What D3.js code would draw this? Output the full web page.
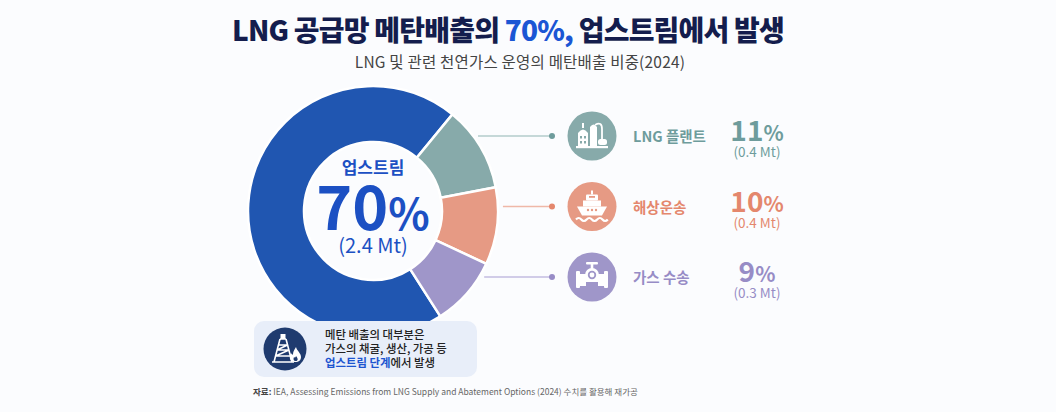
<!DOCTYPE html>
<html>
<head>
<meta charset="utf-8">
<script src="https://cdn.jsdelivr.net/npm/d3@7"></script>
<style>
  body { margin:0; background:#fbfcfe; }
  svg text { font-family:"Noto Sans CJK KR","Noto Sans",sans-serif; }
</style>
</head>
<body>
<div id="chart-area"></div>
<script>
// data
var segNames  = ['업스트림', 'LNG 플랜트', '해상운송', '가스 수송']
var segShares = [70, 11, 10, 9]
var segMt     = [2.4, 0.4, 0.4, 0.3]

var width = 1056, height = 412

var svg = d3.select('#chart-area').append('svg')
  .attr('width', width)
  .attr('height', height)

svg.append('rect').attr('width', width).attr('height', height).attr('fill', '#fbfcfe')

// colours
var sliceColor = d3.scaleOrdinal().domain(segNames)
  .range(['#2056b1', '#87aaaa', '#e69a84', '#9f96c9'])
var textColor = d3.scaleOrdinal().domain(segNames)
  .range(['#1c50c3', '#6e9c9c', '#e4876d', '#978cc6'])
var lineColor = d3.scaleOrdinal().domain(segNames)
  .range(['#2056b1', '#b3cdcb', '#efb8a8', '#c3bde0'])

var data = segNames.map(function(d, i){
  return {name: d, share: segShares[i], mt: segMt[i]}
})

// title
var title = svg.append('text')
  .attr('x', 508).attr('y', 41)
  .attr('text-anchor', 'middle')
  .attr('font-size', '28px')
  .attr('font-weight', 900)
  .attr('letter-spacing', '-0.8px')
  .attr('fill', '#141d4d')
title.append('tspan').text('LNG 공급망 메탄배출의 ')
title.append('tspan').attr('fill', '#1b56d4').text('70%,')
title.append('tspan').text(' 업스트림에서 발생')

svg.append('text')
  .attr('x', 520).attr('y', 68)
  .attr('text-anchor', 'middle')
  .attr('font-size', '15.5px')
  .attr('letter-spacing', '0.2px')
  .attr('fill', '#444')
  .text('LNG 및 관련 천연가스 운영의 메탄배출 비중(2024)')

// donut
var cx = 373, cy = 211, R = 125, r0 = 69

var pie = d3.pie().sort(null).value(function(d){ return d.share })
  .startAngle(147.4 * Math.PI / 180)
  .endAngle(147.4 * Math.PI / 180 + 2 * Math.PI)
var arc = d3.arc().innerRadius(r0).outerRadius(R)

var donut = svg.append('g').attr('transform', 'translate(' + cx + ',' + cy + ')')
donut.selectAll('path')
  .data(pie(data))
  .enter()
  .append('path')
  .attr('d', arc)
  .attr('fill', function(d){ return sliceColor(d.data.name) })
  .attr('stroke', '#fff')
  .attr('stroke-width', 2.5)

// centre label
var main = data[0]
donut.append('text')
  .attr('y', -37).attr('text-anchor', 'middle')
  .attr('font-size', '17px').attr('font-weight', 700)
  .attr('fill', textColor(main.name))
  .text(main.name)
var big = donut.append('text')
  .attr('y', 19).attr('text-anchor', 'middle')
  .attr('font-weight', 700)
  .attr('fill', textColor(main.name))
  .attr('font-family', 'Roboto, "Noto Sans", sans-serif')
big.append('tspan').attr('font-size', '61px').text(main.share)
big.append('tspan').attr('font-size', '43px').text('%')
donut.append('text')
  .attr('y', 42).attr('text-anchor', 'middle')
  .attr('font-size', '20px').attr('font-weight', 400)
  .attr('fill', textColor(main.name))
  .attr('font-family', 'Roboto, "Noto Sans", sans-serif')
  .text('(' + main.mt + ' Mt)')

// legend rows for the smaller parts
var rest = data.slice(1)
var rowY = d3.scalePoint().domain(rest.map(function(d){ return d.name })).range([136, 277])

var rows = svg.selectAll('g.row')
  .data(rest)
  .enter()
  .append('g')
  .attr('class', 'row')

rows.append('line')
  .attr('x1', function(d){
    var dy = rowY(d.name) - cy
    return cx + Math.sqrt(R * R - dy * dy) + 5
  })
  .attr('x2', 552)
  .attr('y1', function(d){ return rowY(d.name) })
  .attr('y2', function(d){ return rowY(d.name) })
  .attr('stroke', function(d){ return lineColor(d.name) })
  .attr('stroke-width', 1.5)

rows.append('circle')
  .attr('cx', 552)
  .attr('cy', function(d){ return rowY(d.name) })
  .attr('r', 3)
  .attr('fill', function(d){ return textColor(d.name) })

rows.append('circle')
  .attr('cx', 592)
  .attr('cy', function(d){ return rowY(d.name) })
  .attr('r', 24.5)
  .attr('fill', function(d){ return sliceColor(d.name) })

rows.append('text')
  .attr('x', 633)
  .attr('y', function(d){ return rowY(d.name) + 6 })
  .attr('font-size', '14.5px').attr('font-weight', 700)
  .attr('fill', function(d){ return textColor(d.name) })
  .text(function(d){ return d.name })

var pct = rows.append('text')
  .attr('x', 757)
  .attr('y', function(d){ return rowY(d.name) + 5 })
  .attr('text-anchor', 'middle')
  .attr('font-weight', 700)
  .attr('font-family', 'Roboto, "Noto Sans", sans-serif')
  .attr('fill', function(d){ return textColor(d.name) })
pct.append('tspan').attr('font-size', '28px').text(function(d){ return d.share })
pct.append('tspan').attr('font-size', '21px').text('%')

rows.append('text')
  .attr('x', 757)
  .attr('y', function(d){ return rowY(d.name) + 21 })
  .attr('text-anchor', 'middle')
  .attr('font-size', '13.5px')
  .attr('font-family', 'Roboto, "Noto Sans", sans-serif')
  .attr('fill', function(d){ return textColor(d.name) })
  .text(function(d){ return '(' + d.mt + ' Mt)' })

// icons (white glyphs on the coloured circles)
function icon(name){
  return svg.append('g').attr('transform', 'translate(592,' + rowY(name) + ')')
}

// LNG plant
var ic1 = icon(segNames[1])
ic1.append('path').attr('fill', '#fff')
  .attr('d', 'M-14,-3 Q-9,-10 -4,-3 L-4,10 L-14,10 Z')
ic1.append('rect').attr('x', -10).attr('y', -13).attr('width', 2).attr('height', 5).attr('fill', '#fff')
ic1.append('path').attr('fill', '#fff')
  .attr('d', 'M-2,-9 Q1.5,-14 5,-9 L5,10 L-2,10 Z')
ic1.append('path').attr('fill', 'none').attr('stroke', '#fff').attr('stroke-width', 1.8)
  .attr('d', 'M3,-11 Q10,-15 10,-7 L10,3')
ic1.append('rect').attr('x', 6).attr('y', 3).attr('width', 9).attr('height', 6).attr('rx', 2.5).attr('fill', '#fff')
ic1.append('rect').attr('x', -16).attr('y', 10).attr('width', 32).attr('height', 2.2).attr('fill', '#fff')
ic1.selectAll('rect.win').data([[-12, 0], [-8, 0], [-12, 5], [-8, 5]]).enter()
  .append('rect').attr('class', 'win')
  .attr('x', function(d){ return d[0] }).attr('y', function(d){ return d[1] })
  .attr('width', 2).attr('height', 2.5).attr('fill', sliceColor(segNames[1]))

// ship
var ic2 = icon(segNames[2])
ic2.append('rect').attr('x', -1).attr('y', -16).attr('width', 2).attr('height', 4).attr('fill', '#fff')
ic2.append('rect').attr('x', -6).attr('y', -12).attr('width', 12).attr('height', 6).attr('rx', 1).attr('fill', '#fff')
ic2.append('rect').attr('x', -3).attr('y', -10.5).attr('width', 6).attr('height', 1.8).attr('fill', sliceColor(segNames[2]))
ic2.append('rect').attr('x', -9).attr('y', -6).attr('width', 18).attr('height', 6).attr('fill', '#fff')
ic2.append('path').attr('fill', '#fff').attr('d', 'M-15,0 L15,0 L10,9 L-10,9 Z')
ic2.selectAll('circle.win').data([-4, 0, 4]).enter().append('circle').attr('class', 'win')
  .attr('cx', function(d){ return d }).attr('cy', 3.5).attr('r', 1.2).attr('fill', sliceColor(segNames[2]))
ic2.append('path').attr('fill', 'none').attr('stroke', '#fff').attr('stroke-width', 2.2)
  .attr('d', 'M-16,13 q2.7,-3 5.3,0 t5.3,0 t5.3,0 t5.3,0 t5.3,0 t5.3,0')

// gas transmission (valve)
var ic3 = icon(segNames[3])
ic3.append('rect').attr('x', -6).attr('y', -15).attr('width', 12).attr('height', 2.6).attr('rx', 1).attr('fill', '#fff')
ic3.append('rect').attr('x', -1.3).attr('y', -13).attr('width', 2.6).attr('height', 6).attr('fill', '#fff')
ic3.append('path').attr('fill', '#fff')
  .attr('d', 'M-12,-3 L12,-3 L12,9 L6,9 L6,5 L-6,5 L-6,9 L-12,9 Z')
ic3.append('rect').attr('x', -16).attr('y', -6).attr('width', 4).attr('height', 17).attr('rx', 1).attr('fill', '#fff')
ic3.append('rect').attr('x', 12).attr('y', -6).attr('width', 4).attr('height', 17).attr('rx', 1).attr('fill', '#fff')
ic3.append('circle').attr('cy', -2).attr('r', 7).attr('fill', '#fff')
ic3.append('circle').attr('cy', -2).attr('r', 4.2).attr('fill', sliceColor(segNames[3]))
ic3.append('circle').attr('cy', -2).attr('r', 2.4).attr('fill', '#fff')

// note box
svg.append('rect')
  .attr('x', 254).attr('y', 321).attr('width', 223).attr('height', 56).attr('rx', 10)
  .attr('fill', '#e8eef9')

var rig = svg.append('g').attr('transform', 'translate(285,349)')
rig.append('circle').attr('r', 21.5).attr('fill', '#1f3b6f')
rig.append('path').attr('fill', 'none').attr('stroke', '#fff').attr('stroke-width', 1.6)
  .attr('d', 'M-11,13 L-5,-10 M1,-10 L7,13 M-5,-10 L1,-10 M-8,1 L4,1 M-9.5,7 L5.5,7 M-6.5,-4 L2.5,-4 M-8,1 L2.5,-4 M-9.5,7 L4,1 M-13,13 L9,13')
rig.append('rect').attr('x', -4.5).attr('y', -15).attr('width', 5).attr('height', 5).attr('fill', '#fff')
rig.append('path').attr('fill', '#fff')
  .attr('d', 'M10,13 C4,13 4,7 6,4 C7,6 8,6 8,5 C8,2 10,0 11,-2 C12,2 16,4 16,8 C16,11 14,13 10,13 Z')
rig.append('path').attr('fill', '#1f3b6f')
  .attr('d', 'M10.5,12 C8.5,12 8,10 9,8 C10,9 10.5,8.5 11,7 C12.5,9 13,10 12.5,11 C12,12 11.5,12 10.5,12 Z')

var note = svg.append('g').attr('font-size', '11.4px').attr('font-weight', 500).attr('fill', '#222')
note.append('text').attr('x', 325).attr('y', 339).text('메탄 배출의 대부분은')
note.append('text').attr('x', 325).attr('y', 353).text('가스의 채굴, 생산, 가공 등')
var l3 = note.append('text').attr('x', 325).attr('y', 367)
l3.append('tspan').attr('fill', '#1d55d0').attr('font-weight', 700).text('업스트림 단계')
l3.append('tspan').text('에서 발생')

// source
var src = svg.append('text').attr('x', 253).attr('y', 395)
  .attr('font-size', '8.5px').attr('fill', '#666')
src.append('tspan').attr('font-weight', 700).attr('fill', '#444').text('자료: ')
src.append('tspan').text('IEA, Assessing Emissions from LNG Supply and Abatement Options (2024) 수치를 활용해 재가공')
</script>
</body>
</html>
